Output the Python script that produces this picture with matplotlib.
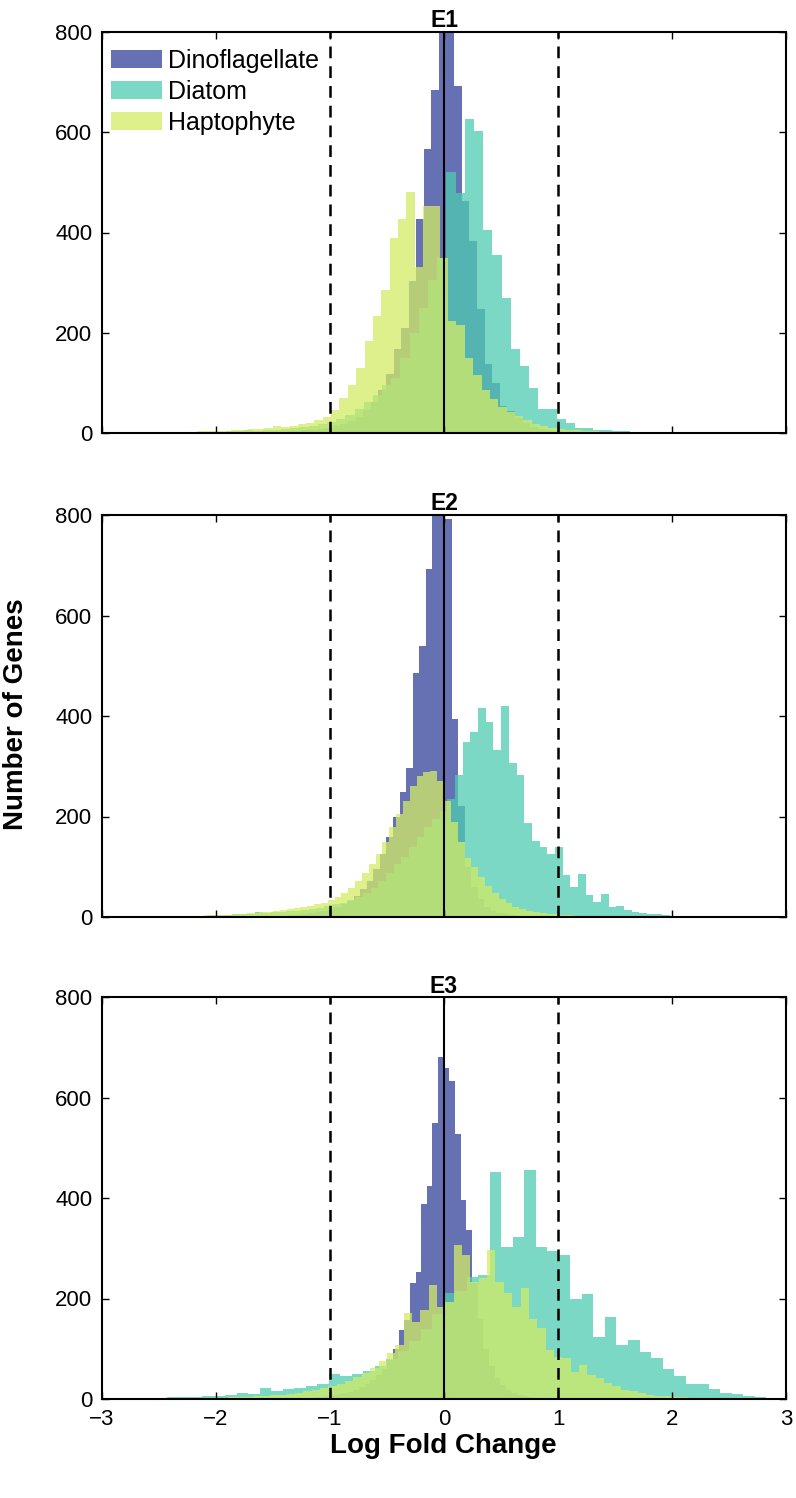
import numpy as np
import matplotlib
matplotlib.use('Agg')
import matplotlib.pyplot as plt

plt.rcParams['font.family'] = ['Liberation Sans', 'DejaVu Sans']

# Histogram data: (first bin edge, bin width, counts per bin)
# E1
e1_dino_start, e1_dino_width = -1.575, 0.0666
e1_dino = [1, 2, 2, 3, 4, 5, 6, 8, 10, 13, 18, 24, 32, 45, 62, 85, 117, 167, 210, 303,
           426, 566, 684, 860, 820, 692, 463, 383, 247, 137, 100, 54, 44, 30, 20, 12, 8, 5, 3, 2, 1]
e1_diat_start, e1_diat_width = -2.397, 0.0806
e1_diat = [1, 1, 1, 1, 2, 2, 3, 3, 5, 4, 5, 6, 7, 9, 11, 14, 17, 22, 28, 35, 48, 62, 75, 95, 110,
           150, 200, 250, 305, 350,
           521, 478, 626, 602, 405, 356, 270, 167, 133, 90, 47, 47, 27, 20, 10, 10, 6, 5, 4, 3, 2, 2, 1, 1]
e1_hapt_start, e1_hapt_width = -2.383, 0.0733
e1_hapt = [1, 2, 2, 3, 3, 4, 4, 5, 6, 7, 8, 10, 13, 12, 14, 18, 20, 25, 32, 45, 70, 95, 130, 183,
           233, 286, 389, 427,
           481, 332, 453, 453, 350, 223, 216, 150, 115, 85, 68, 52, 42, 33, 26, 18, 14, 10, 8, 6, 5, 4, 3, 2, 2, 1]

# E2
e2_dino_start, e2_dino_width = -1.534, 0.0572
e2_dino = [1, 2, 2, 3, 4, 5, 7, 9, 12, 15, 19, 25, 32, 42, 55, 72, 95, 125, 160, 200,
           249, 297, 486, 540, 693, 880, 850, 792, 394, 220, 100, 60, 35, 20, 12, 8, 5, 3, 2, 1]
e2_diat_start, e2_diat_width = -2.397, 0.0674
e2_diat = [1, 1, 1, 2, 2, 3, 3, 4, 5, 5, 6, 9, 8, 9, 10, 11, 12, 14, 16, 18, 22, 25, 28, 33, 40,
           48, 58, 72, 88, 105, 120, 140, 160, 180, 195, 210, 235, 282, 348, 368,
           416, 388, 333, 419, 306, 282, 187, 151, 139, 126, 139, 83, 60, 86, 43, 30, 46, 20, 22, 13,
           10, 7, 6, 5, 3, 2]
e2_hapt_start, e2_hapt_width = -2.40, 0.06
e2_hapt = [1, 1, 2, 1, 2, 3, 3, 4, 4, 5, 6, 7, 8, 9, 10, 12, 13, 15, 17, 19, 22, 25, 28, 33, 40,
           48, 58, 72, 88, 105, 125, 150, 180, 205, 230, 260, 280, 288, 290, 270, 230, 190, 150, 118,
           100, 80, 62, 48, 36, 27, 20, 15, 12, 9, 7, 6, 5, 4, 3, 2]

# E3
e3_dino_start, e3_dino_width = -1.289, 0.0495
e3_dino = [1, 2, 2, 3, 4, 5, 7, 9, 11, 14, 18, 23, 29, 37, 47, 60, 78, 100,
           137, 157, 230, 253, 389, 424, 550, 681, 658, 632, 528, 396, 336, 230, 160, 100, 65, 42,
           28, 18, 12, 8, 5, 3, 2]
e3_diat_start, e3_diat_width = -2.426, 0.101
e3_diat = [3, 3, 4, 6, 5, 8, 12, 10, 22, 15, 20, 22, 25, 30, 50, 45, 50, 55, 65, 80, 95, 115, 140,
           170, 210, 215, 243, 247,
           452, 303, 323, 455, 303, 294, 286, 200, 208, 124, 164, 107, 117, 94, 81, 60, 45, 30, 30,
           20, 12, 10, 5, 4]
e3_hapt_start, e3_hapt_width = -2.407, 0.0733
e3_hapt = [1, 1, 1, 1, 1, 2, 2, 3, 3, 4, 5, 6, 7, 8, 10, 12, 15, 18, 21, 25, 30, 36, 43, 52, 62,
           75, 91, 107, 172, 154, 177, 227, 184, 194,
           306, 286, 233, 240, 296, 233, 210, 184, 221, 160, 141, 97, 84, 81, 54, 68, 48, 41, 31, 25,
           18, 15, 11, 8, 6, 5, 4, 3, 2]

panels = ['E1', 'E2', 'E3']
species = ['Dinoflagellate', 'Diatom', 'Haptophyte']
colors = ['#33429b', '#4fcbb0', '#d2ec66']
data = {
    'E1': [(e1_dino_start, e1_dino_width, e1_dino),
           (e1_diat_start, e1_diat_width, e1_diat),
           (e1_hapt_start, e1_hapt_width, e1_hapt)],
    'E2': [(e2_dino_start, e2_dino_width, e2_dino),
           (e2_diat_start, e2_diat_width, e2_diat),
           (e2_hapt_start, e2_hapt_width, e2_hapt)],
    'E3': [(e3_dino_start, e3_dino_width, e3_dino),
           (e3_diat_start, e3_diat_width, e3_diat),
           (e3_hapt_start, e3_hapt_width, e3_hapt)],
}

fig = plt.figure(figsize=(7.96, 14.98), dpi=100)
W, H = 796, 1498
boxes = [(32, 433), (515, 917), (997, 1399)]

for i, name in enumerate(panels):
    top, bot = boxes[i]
    ax = fig.add_axes([102 / W, 1 - bot / H, 684 / W, (bot - top) / H])
    for (start, width, counts), sp, c in zip(data[name], species, colors):
        counts = np.array(counts, dtype=float)
        edges = start + width * np.arange(len(counts) + 1)
        ax.hist(edges[:-1] + width / 2, bins=edges, weights=counts, color=c,
                alpha=0.75, label=sp, linewidth=0)
    ax.axvline(0, color='black', lw=1.5)
    ax.axvline(-1, color='black', lw=1.8, linestyle=(0, (4.7, 3.2)))
    ax.axvline(1, color='black', lw=1.8, linestyle=(0, (4.7, 3.2)))
    ax.set_xlim(-3, 3)
    ax.set_ylim(0, 800)
    ax.set_xticks(range(-3, 4))
    ax.set_yticks(range(0, 801, 200))
    ax.tick_params(direction='in', top=True, right=True, length=5, width=1,
                   labelsize=16, pad=7)
    if i < 2:
        ax.set_xticklabels([])
    for s in ax.spines.values():
        s.set_linewidth(1.5)
    ax.set_title(name, fontsize=16.5, fontweight='bold', pad=3)
    if i == 0:
        ax.legend(loc='upper left', bbox_to_anchor=(0, 0.98), frameon=False,
                  fontsize=18, handlelength=2.05, handleheight=0.75,
                  labelspacing=0.28, borderaxespad=0.2, borderpad=0.15,
                  handletextpad=0.25)

fig.text(0.02, 0.523, 'Number of Genes', rotation=90, fontsize=20,
         fontweight='bold', ha='center', va='center')
fig.text(0.557, 0.0347, 'Log Fold Change', fontsize=20, fontweight='bold',
         ha='center', va='center')

fig.savefig('out.png', dpi=100)
